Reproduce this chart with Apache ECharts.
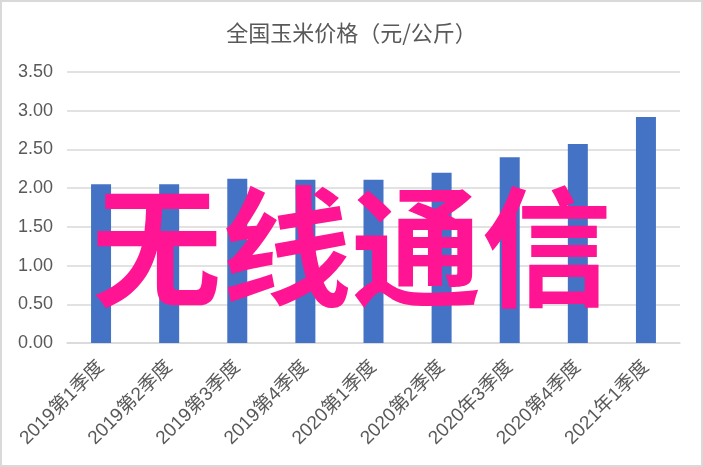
<!DOCTYPE html>
<html><head><meta charset="utf-8">
<script src="https://cdn.jsdelivr.net/npm/echarts@6/dist/echarts.min.js"></script>
<style>html,body{margin:0;padding:0;background:#fff}#c{width:703px;height:467px;box-sizing:border-box;border:2px solid #d9d9d9}</style>
</head><body><div id="c"></div>
<script>
const categories = ['2019第1季度','2019第2季度','2019第3季度','2019第4季度','2020第1季度','2020第2季度','2020年3季度','2020第4季度','2021年1季度'];
const prices = [2.05, 2.05, 2.12, 2.11, 2.11, 2.20, 2.40, 2.57, 2.92];
const yTicks = {min: 0, max: 3.5, interval: 0.5};
const titleText = '全国玉米价格（元/公斤）';
const watermark = '无线通信';

const ff = '"Liberation Sans", "Noto Sans CJK SC", sans-serif';
const chart = echarts.init(document.getElementById('c'));
chart.setOption({
  animation: false,
  title: {text: titleText, left: 'center', top: 15,
    textStyle: {color: '#595959', fontSize: 22, fontWeight: 'normal', fontFamily: '"Noto Sans CJK SC", sans-serif'}},
  grid: {left: 65, right: 21, top: 70, bottom: 122, containLabel: false},
  xAxis: {type: 'category', data: categories,
    axisLine: {lineStyle: {color: '#d9d9d9', width: 1.5}},
    axisTick: {show: false},
    axisLabel: {rotate: 45, color: '#595959', fontSize: 19, fontFamily: ff, interval: 0, margin: 21}},
  yAxis: {type: 'value', min: yTicks.min, max: yTicks.max, interval: yTicks.interval,
    axisLine: {show: false}, axisTick: {show: false},
    splitLine: {lineStyle: {color: '#d9d9d9', width: 1.5}},
    axisLabel: {color: '#595959', fontSize: 18, fontFamily: ff, margin: 14,
      formatter: v => v.toFixed(2)}},
  series: [{type: 'bar', data: prices, barWidth: 20,
    itemStyle: {color: '#4472C4'}}],
  graphic: [{type: 'text', left: 'center', top: 180, z: 100,
    style: {text: watermark, fill: '#ff1493', font: 'bold 130px "Noto Sans CJK SC", sans-serif'}}]
});
</script></body></html>
